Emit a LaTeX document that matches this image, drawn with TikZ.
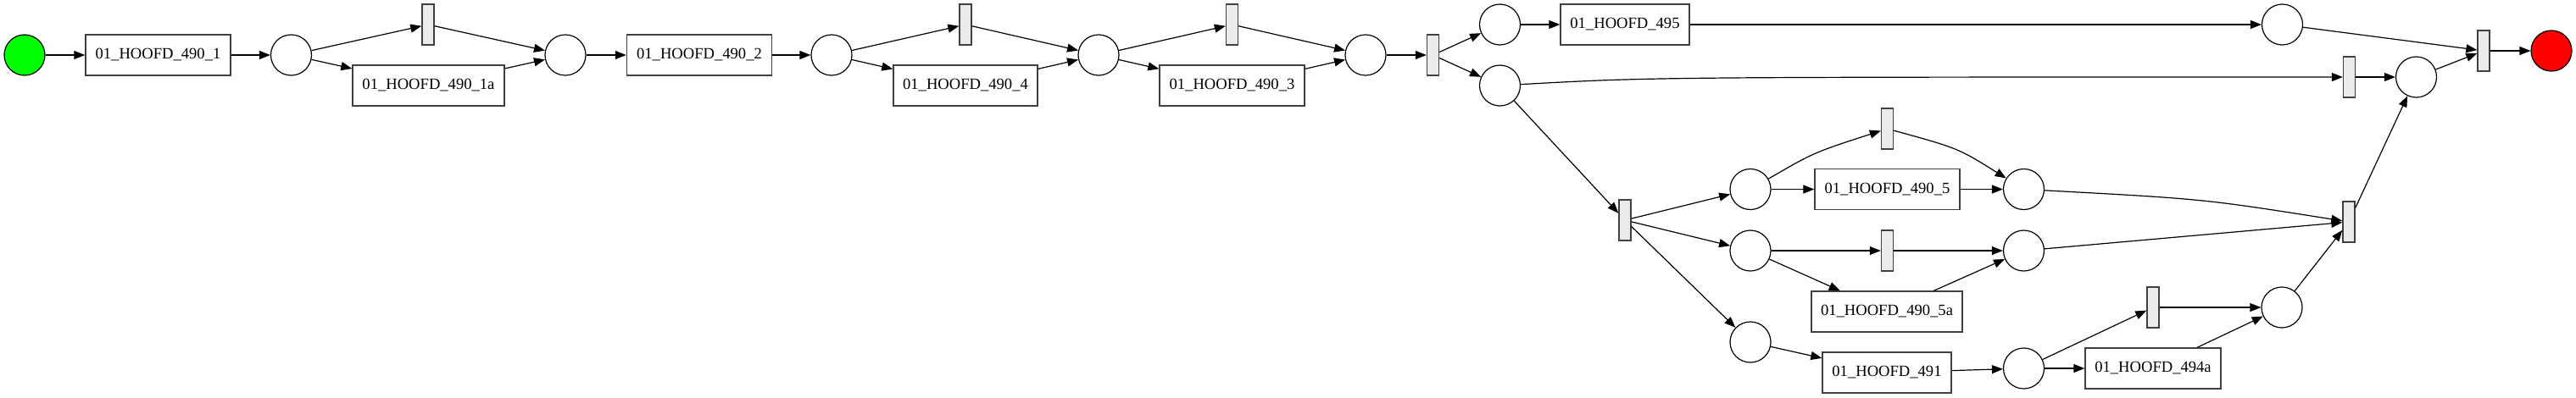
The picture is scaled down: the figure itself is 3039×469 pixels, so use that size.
\documentclass[tikz,border=0pt]{standalone}
\usepackage{fontspec}
\setmainfont{Liberation Serif}
\usetikzlibrary{arrows.meta}
\definecolor{silentc}{RGB}{235,235,235}
\definecolor{startg}{RGB}{0,255,0}
\definecolor{endr}{RGB}{255,0,0}
\definecolor{boxline}{RGB}{64,64,64}
\tikzset{
 place/.style={circle,draw,line width=1.2pt,minimum size=48pt,inner sep=0pt},
 silent/.style={rectangle,draw=boxline,line width=1.4pt,fill=silentc,minimum width=14pt,minimum height=48pt,inner sep=0pt},
 task/.style={rectangle,draw=boxline,line width=1.4pt,minimum height=48pt,inner sep=0pt,font=\fontsize{18.6}{22}\selectfont},
 arr/.style={line width=1.2pt,-{Triangle[length=13pt,width=10pt]}}
}
\begin{document}
\begin{tikzpicture}[x=1pt,y=-1pt]
\useasboundingbox (0,0) rectangle (3039,469);
% top chain
\node[place,fill=startg] (g) at (29,65) {};
\node[task,minimum width=171pt] (A) at (186.5,65) {01\_HOOFD\_490\_1};
\node[place] (p1) at (343.5,65) {};
\node[silent] (t1) at (505,29) {};
\node[task,minimum width=179pt] (B) at (505.5,101) {01\_HOOFD\_490\_1a};
\node[place] (p2) at (667,65) {};
\node[task,minimum width=171pt] (C) at (825,65) {01\_HOOFD\_490\_2};
\node[place] (p3) at (981,65) {};
\node[silent] (t2) at (1139,29) {};
\node[task,minimum width=170pt] (D) at (1139,101) {01\_HOOFD\_490\_4};
\node[place] (p4) at (1296,65) {};
\node[silent] (t3) at (1453.5,29) {};
\node[task,minimum width=171pt] (E) at (1453.5,101) {01\_HOOFD\_490\_3};
\node[place] (p5) at (1611,65) {};
\node[silent] (t4) at (1690.5,65) {};
\node[place] (p6) at (1769.5,29) {};
\node[place] (p7) at (1769.5,101) {};
\node[task,minimum width=152pt] (F) at (1917,29) {01\_HOOFD\_495};
\node[place] (p8) at (2692.5,29) {};
\node[silent] (t5) at (2771.5,91) {};
\node[place] (p9) at (2850.5,91) {};
\node[silent] (t6) at (2930,60) {};
\node[place,fill=endr] (r) at (3010,60) {};
% lower part
\node[silent] (t7) at (1917,260) {};
\node[place] (p10) at (2065,223.5) {};
\node[silent] (t8) at (2226.5,152) {};
\node[task,minimum width=171pt] (G) at (2226.5,223.5) {01\_HOOFD\_490\_5};
\node[place] (p11) at (2387.5,223.5) {};
\node[place] (p12) at (2065,296) {};
\node[silent] (t9) at (2226.5,296) {};
\node[task,minimum width=178pt] (H) at (2226,368) {01\_HOOFD\_490\_5a};
\node[place] (p13) at (2387.5,296) {};
\node[place] (p14) at (2065,404) {};
\node[task,minimum width=152pt] (I) at (2226,440) {01\_HOOFD\_491};
\node[place] (p15) at (2387.5,435) {};
\node[silent] (t10) at (2540,363) {};
\node[task,minimum width=160pt] (J) at (2540,435) {01\_HOOFD\_494a};
\node[place] (p16) at (2692,363) {};
\node[silent] (t11) at (2771,262) {};
% edges
\draw[arr] (g) -- (A);
\draw[arr] (A) -- (p1);
\draw[arr] (p1) -- (t1);
\draw[arr] (p1) -- (B);
\draw[arr] (t1) -- (p2);
\draw[arr] (B) -- (p2);
\draw[arr] (p2) -- (C);
\draw[arr] (C) -- (p3);
\draw[arr] (p3) -- (t2);
\draw[arr] (p3) -- (D);
\draw[arr] (t2) -- (p4);
\draw[arr] (D) -- (p4);
\draw[arr] (p4) -- (t3);
\draw[arr] (p4) -- (E);
\draw[arr] (t3) -- (p5);
\draw[arr] (E) -- (p5);
\draw[arr] (p5) -- (t4);
\draw[arr] (t4) -- (p6);
\draw[arr] (t4) -- (p7);
\draw[arr] (p6) -- (F);
\draw[arr] (F) -- (p8);
\draw[arr] (p8) -- (t6);
\draw[arr] (p7) .. controls (1950,91) .. (t5);
\draw[arr] (t5) -- (p9);
\draw[arr] (p9) -- (t6);
\draw[arr] (t6) -- (r);
\draw[arr] (p7) -- (t7);
\draw[arr] (t7) -- (p10);
\draw[arr] (t7) -- (p12);
\draw[arr] (t7) -- (p14);
\draw[arr] (p10) .. controls (2140,180) .. (t8);
\draw[arr] (p10) -- (G);
\draw[arr] (t8) .. controls (2310,175) .. (p11);
\draw[arr] (G) -- (p11);
\draw[arr] (p12) -- (t9);
\draw[arr] (p12) -- (H);
\draw[arr] (t9) -- (p13);
\draw[arr] (H) -- (p13);
\draw[arr] (p11) .. controls (2600,235) .. (t11);
\draw[arr] (p13) -- (t11);
\draw[arr] (p14) -- (I);
\draw[arr] (I) -- (p15);
\draw[arr] (p15) -- (t10);
\draw[arr] (p15) -- (J);
\draw[arr] (t10) -- (p16);
\draw[arr] (J) -- (p16);
\draw[arr] (p16) -- (t11);
\draw[arr] (t11) -- (p9);
\end{tikzpicture}
\end{document}
